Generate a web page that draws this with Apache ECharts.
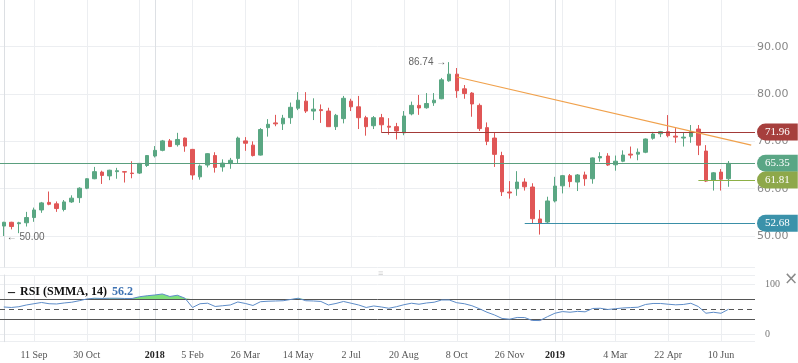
<!DOCTYPE html>
<html><head><meta charset="utf-8">
<script src="https://cdn.jsdelivr.net/npm/echarts@6/dist/echarts.min.js"></script>
<style>html,body{margin:0;padding:0;background:#fff}#c{width:798px;height:363px}</style>
</head><body><div id="c"></div>
<script>
// ---------- data ----------
const weekStart = [2017, 7, 14];   // first weekly candle: 14 Aug 2017
const nCategories = 100;           // 97 candles + 3 empty weeks on the right
const opens  = [52.1,52.9,52.6,52.8,53.9,55.5,57.1,56.8,55.6,57.2,58.1,60.1,62.1,63.5,62.7,63.6,63.6,63.3,63.3,64.9,66.9,68.1,70.1,69.3,70.7,68.3,62.5,65.0,67.0,64.6,65.3,66.4,70.1,69.2,67.1,72.9,73.9,73.7,75.0,77.0,78.5,76.4,76.7,76.4,73.1,74.8,78.5,77.3,75.0,73.3,75.0,73.2,73.1,71.8,75.8,77.6,77.1,78.15,79.0,82.8,84.2,81.1,80.2,77.6,72.9,70.7,67.0,59.3,60.0,61.4,60.35,53.6,52.95,57.4,60.6,62.75,61.4,62.9,62.1,66.5,66.9,65.05,65.8,67.3,67.3,67.7,70.65,71.6,72.05,71.1,70.7,71.0,72.6,67.95,61.8,63.5,62.1];
const closes = [52.9,52.0,52.8,53.9,55.5,57.0,56.7,55.8,57.2,58.0,60.1,62.1,63.6,62.8,63.9,63.8,63.5,63.2,65.35,67.0,68.1,70.1,68.9,70.4,69.0,62.9,64.8,67.4,64.5,65.4,66.0,70.7,69.6,67.0,72.5,73.6,73.7,74.9,77.2,78.7,76.4,76.8,76.5,73.1,75.5,79.1,77.3,75.0,73.1,75.0,73.5,73.0,72.2,75.35,77.6,77.05,78.0,78.7,83.0,84.2,80.7,80.1,77.9,72.7,70.0,67.25,59.35,59.1,61.4,60.4,53.65,52.75,57.4,60.55,62.75,61.5,62.9,62.1,66.5,66.8,65.0,65.8,67.1,67.1,67.7,70.5,71.55,72.05,71.2,70.9,70.9,72.05,69.2,61.6,63.35,62.0,65.35];
const lows   = [50.0,51.4,50.6,52.0,53.0,54.9,56.5,55.1,55.2,57.0,57.0,59.9,62.0,61.0,61.8,62.1,61.3,62.2,63.1,64.6,66.6,67.9,68.8,68.9,67.8,61.9,61.9,64.5,63.4,63.6,64.2,65.4,68.0,66.8,67.0,71.0,73.2,72.4,73.7,76.6,76.0,74.5,73.9,73.1,72.4,73.8,76.4,72.6,71.2,72.6,71.96,71.4,70.4,71.3,75.5,75.6,76.9,77.5,78.9,82.6,79.2,79.0,75.2,72.2,69.2,64.6,58.45,57.9,58.5,59.6,52.7,50.3,52.7,57.1,59.0,60.3,59.5,60.6,61.05,65.7,64.8,63.8,65.6,66.4,66.0,67.5,70.35,70.9,70.85,69.7,68.9,69.7,67.1,61.4,59.6,59.6,60.4];
const highs  = [53.0,53.0,53.0,55.1,56.0,57.2,59.4,57.3,57.6,58.6,60.3,62.2,64.6,63.8,64.0,64.4,63.7,65.8,65.4,67.1,69.0,70.3,70.5,71.8,70.8,68.4,65.1,67.5,67.7,66.2,66.5,71.0,70.9,70.0,72.8,74.7,75.6,75.6,78.2,80.4,80.4,79.1,77.8,77.1,75.8,79.6,79.0,79.6,75.4,75.35,75.8,74.9,73.9,76.4,78.4,79.8,80.2,80.2,83.4,86.74,85.5,81.9,80.4,78.0,74.0,71.9,67.8,61.6,63.7,62.2,61.15,55.5,58.3,62.5,62.9,63.1,63.1,63.6,66.6,67.7,67.5,67.0,68.1,68.9,68.5,70.6,72.0,72.2,75.55,72.8,71.8,73.45,73.45,69.2,63.5,64.15,65.85];
const rsi    = [54.5,53.5,55,58.5,61,63.5,61,60.5,62.5,64,67,70.5,72,71.5,72,72,71.5,71.5,75,77,78.5,80.5,75.5,78,72,53.5,61,62,55.5,57,58.5,64.5,61.5,57.5,65,66,66.5,67,69.5,72,67,66.5,65.5,58.5,61.5,65.5,62,58.5,53.5,56.5,54.5,52,55,59,62,60,62.5,64,68.5,68.5,63,61,57,51,44,38.5,31.5,30,33.5,33.3,27.5,27.3,35,42,45.3,44,45.7,44.8,51.5,51.9,49.5,51,52.5,53.3,54,59.5,61.5,61.5,60,58.8,59.5,61.9,55.3,42,43.9,41.9,50];
const rsiLast = '56.2';
const tickIdx  = [4,11,20,25,32,39,46,53,60,67,73,81,88,95];
const tickText = ['11 Sep','30 Oct','2018','5 Feb','26 Mar','14 May','2 Jul','20 Aug','8 Oct','26 Nov','2019','4 Mar','22 Apr','10 Jun'];
const yearText = ['2018','2019'];
const gridIdx  = [4,11,18,20,25,32,39,46,53,60,67,73,74,81,88,95];
const yearIdx  = [20,73];
const levelValues = [71.96, 65.35, 61.81, 52.68];
const levelFrom   = [50, null, 92, 69];      // candle index where each level starts (null = full width)
const trendFrom = [60, 83.6], trendTo = [99, 69.2];
const maxPoint = [59, 86.74], minPoint = [0, 50.00];
const rsiLevels = [70, 50, 30];

// ---------- styles ----------
const UP = '#5aa783', DOWN = '#e05656';
const levelColors = ['#a63f3d', '#5aa685', '#8ea84a', '#3b92aa'];
const levelLine   = ['#a33a38', '#5a9f7e', '#8db046', '#3a8fa7'];
const GRID = '#eceef1', GRID_DARK = '#dde0e4';

const categories = [];
for (let i = 0; i < nCategories; i++) {
  const d = new Date(Date.UTC(weekStart[0], weekStart[1], weekStart[2] + 7 * i));
  categories.push(d.toISOString().slice(0, 10));
}
const candles = opens.map((o, i) => [o, closes[i], lows[i], highs[i]]);
const tickMap = {};
tickIdx.forEach((t, k) => tickMap[t] = tickText[k]);

const levelMarks = levelValues.map((v, k) => {
  const common = {
    lineStyle: { color: levelLine[k], width: 1.2, type: 'solid' },
    label: {
      show: true, position: 'end', distance: 2, formatter: v.toFixed(2),
      color: '#fff', backgroundColor: levelColors[k], fontSize: 11,
      fontFamily: 'Liberation Serif', padding: [3, 8, 3, 8], borderRadius: [9, 0, 0, 9]
    }
  };
  if (levelFrom[k] === null) return Object.assign({ yAxis: v }, common);
  return [Object.assign({ coord: [levelFrom[k], v] }, common), { coord: [99.5, v] }];
});
levelMarks.push([
  { coord: trendFrom, lineStyle: { color: '#f0a14c', width: 1.2, type: 'solid' }, label: { show: false } },
  { coord: trendTo }
]);

const vGrid = gridIdx.map(i => ({ xAxis: i, lineStyle: { color: yearIdx.includes(i) ? GRID_DARK : GRID, width: 1, type: 'solid' } }));

const chart = echarts.init(document.getElementById('c'), null, { renderer: 'canvas' });
chart.setOption({
  animation: false,
  backgroundColor: '#fff',
  title: [
    { left: 3, top: 278, text: '{d|–} {t|RSI (SMMA, 14)} {v|' + rsiLast + '}',
      textStyle: { rich: {
        d: { fontSize: 14, fontWeight: 'bold', color: '#111', fontFamily: 'Liberation Serif' },
        t: { fontSize: 12, color: '#111', fontFamily: 'Liberation Serif' },
        v: { fontSize: 12, color: '#3f73b3', fontFamily: 'Liberation Serif' } } } },
    { left: 373, top: 264, text: '≡', textStyle: { fontSize: 9, color: '#cfcfcf', fontWeight: 'normal' } },
    { left: 779, top: 266, text: '×', textStyle: { fontSize: 17, color: '#8a8a8a', fontWeight: 'normal', fontFamily: 'DejaVu Sans' } }
  ],
  grid: [
    { left: 0, right: 43, top: 0, height: 267 },
    { left: 0, right: 43, top: 275, height: 66.7 }
  ],
  xAxis: [
    { type: 'category', gridIndex: 0, data: categories, show: false, boundaryGap: true },
    { type: 'value', gridIndex: 0, min: -0.5, max: 99.5, show: false },
    { type: 'category', gridIndex: 1, data: categories, boundaryGap: true,
      axisLine: { show: false }, axisTick: { show: false }, splitLine: { show: false },
      axisLabel: {
        interval: (i) => tickMap[i] !== undefined,
        formatter: (v, i) => yearText.includes(tickMap[i]) ? '{y|' + tickMap[i] + '}' : (tickMap[i] || ''),
        margin: 9, fontSize: 10, color: '#555', fontFamily: 'Liberation Serif',
        rich: { y: { fontSize: 10, fontWeight: 'bold', color: '#222', fontFamily: 'Liberation Serif' } }
      } },
    { type: 'value', gridIndex: 1, min: -0.5, max: 99.5, show: false }
  ],
  yAxis: [
    { type: 'value', gridIndex: 0, position: 'right', min: 43.45, max: 99.87, minInterval: 10, maxInterval: 10,
      axisLine: { show: true, lineStyle: { color: '#dcdfe3' } }, axisTick: { show: false },
      axisLabel: { margin: 2, color: '#888', fontSize: 11, fontFamily: 'DejaVu Sans',
        formatter: v => v.toFixed(2), showMinLabel: false, showMaxLabel: false },
      splitLine: { show: true, showMaxLine: false, lineStyle: { color: GRID } } },
    { type: 'value', gridIndex: 1, position: 'right', min: -15, max: 118.5, minInterval: 100, maxInterval: 100,
      axisLine: { show: true, lineStyle: { color: '#dcdfe3' } }, axisTick: { show: false },
      axisLabel: { margin: 10, color: '#777', fontSize: 10, fontFamily: 'Liberation Serif',
        showMinLabel: false, showMaxLabel: false },
      splitLine: { show: true, lineStyle: { color: GRID } } }
  ],
  series: [
    { type: 'line', name: 'vgrid', xAxisIndex: 1, yAxisIndex: 0, data: [], silent: true,
      markLine: { silent: true, z: 1, symbol: ['none', 'none'], label: { show: false }, data: vGrid } },
    { type: 'line', name: 'vgrid2', xAxisIndex: 3, yAxisIndex: 1, data: [], silent: true,
      markLine: { silent: true, z: 1, symbol: ['none', 'none'], label: { show: false }, data: vGrid } },
    { type: 'candlestick', name: 'price', xAxisIndex: 0, yAxisIndex: 0, data: candles, z: 3,
      barWidth: 4,
      itemStyle: { color: UP, color0: DOWN, borderColor: UP, borderColor0: DOWN, borderWidth: 1 },
      markPoint: { symbol: 'circle', symbolSize: 0, silent: true,
        data: [
          { coord: maxPoint, label: { show: true, position: 'left', distance: 3, formatter: maxPoint[1].toFixed(2) + ' →', color: '#666', fontSize: 10, fontFamily: 'Liberation Sans' } },
          { coord: minPoint, label: { show: true, position: 'right', distance: 3, formatter: '← ' + minPoint[1].toFixed(2), color: '#666', fontSize: 10, fontFamily: 'Liberation Sans', offset: [0, 1] } }
        ] } },
    { type: 'line', name: 'levels', xAxisIndex: 1, yAxisIndex: 0, data: [], silent: true,
      markLine: { silent: true, z: 6, symbol: ['none', 'none'], data: levelMarks } },
    { type: 'line', name: 'ob', xAxisIndex: 2, yAxisIndex: 1, data: rsi.map(v => Math.max(v, rsiLevels[0])),
      symbol: 'none', silent: true, lineStyle: { width: 0 }, areaStyle: { color: '#7fe07c', opacity: 1, origin: rsiLevels[0] }, z: 2 },
    { type: 'line', name: 'os', xAxisIndex: 2, yAxisIndex: 1, data: rsi.map(v => Math.min(v, rsiLevels[2])),
      symbol: 'none', silent: true, lineStyle: { width: 0 }, areaStyle: { color: '#c48aae', opacity: 1, origin: rsiLevels[2] }, z: 2 },
    { type: 'line', name: 'RSI', xAxisIndex: 2, yAxisIndex: 1, data: rsi, symbol: 'none', z: 4,
      lineStyle: { color: '#5d8cc8', width: 1 },
      markLine: { silent: true, z: 3, symbol: ['none', 'none'], label: { show: false },
        data: rsiLevels.map(v => ({ yAxis: v, lineStyle: { color: '#555', width: 1, type: v === 50 ? [5, 4] : 'solid' } })) } }
  ]
});
</script></body></html>
